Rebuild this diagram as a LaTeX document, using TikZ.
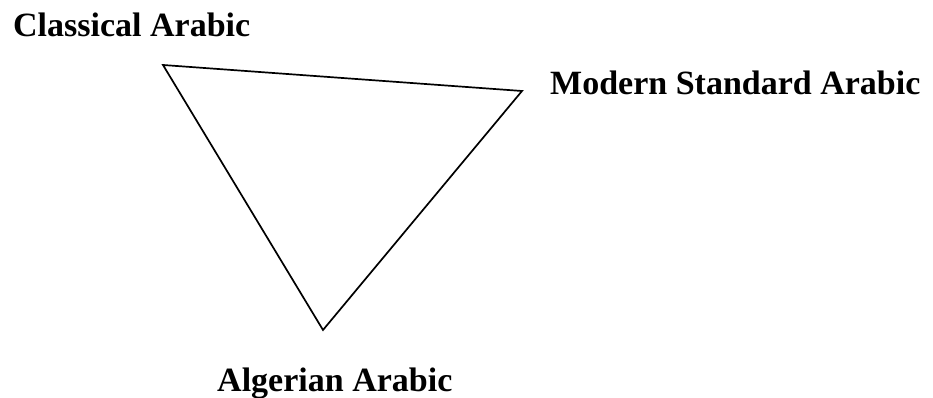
\documentclass[tikz,border=0pt]{standalone}
\usepackage{fontspec}
\setmainfont{Liberation Serif}
\begin{document}
\begin{tikzpicture}[x=1pt,y=1pt,
  lbl/.style={font=\fontsize{34}{40}\selectfont\bfseries, inner sep=0pt, anchor=base west},
  edge/.style={line width=1.7pt, line join=miter}]
\useasboundingbox (0,0) rectangle (933,398);
\coordinate (ca) at (163,{398-65});
\coordinate (msa) at (522,{398-91});
\coordinate (aa) at (323,{398-330});
\draw[edge] (ca) -- (msa) -- (aa) -- cycle;
\node[lbl] (tca) at (13,{398-37}) {Classical Arabic};
\node[lbl] (tmsa) at (550,{398-95}) {Modern Standard Arabic};
\node[lbl] (taa) at (217,{398-392}) {Algerian Arabic};
\end{tikzpicture}
\end{document}
